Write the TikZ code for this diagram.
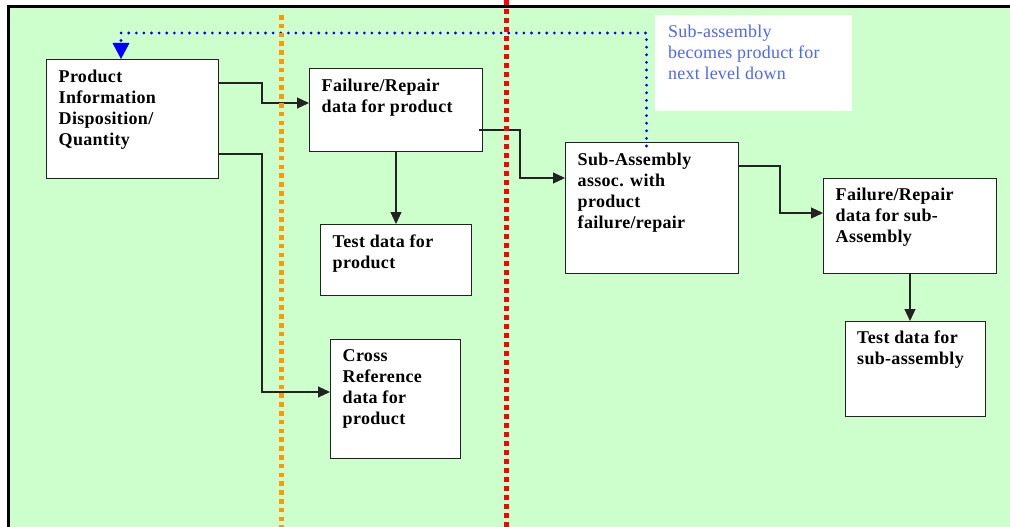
\documentclass[tikz,border=0pt]{standalone}
\usepackage{fontspec}
\setmainfont{Liberation Serif}
\newfontfamily\spacedserif[LetterSpace=1.8]{Liberation Serif}
\newfontfamily\noteserif[LetterSpace=1.2]{Liberation Serif}
\usetikzlibrary{arrows.meta,calc}
\definecolor{bggreen}{HTML}{CCFFCC}
\definecolor{dotorange}{HTML}{FF9900}
\definecolor{dotred}{HTML}{FF0000}
\definecolor{noteblue}{RGB}{77,102,255}
\definecolor{linkblue}{HTML}{0000FF}
\definecolor{edgegray}{HTML}{222222}
\begin{document}
\begin{tikzpicture}[x=1pt,y=-1pt,
  boxnode/.style={draw=edgegray, line width=1.2pt, fill=white, inner sep=0pt, anchor=north west},
  notebox/.style={fill=white, inner sep=0pt, anchor=north west},
  lbl/.style={anchor=north west, inner sep=0pt, align=left, text=black,
    font=\spacedserif\fontsize{18}{21}\selectfont\bfseries},
  notelbl/.style={anchor=north west, inner sep=0pt, align=left, text=noteblue,
    font=\noteserif\fontsize{18}{21}\selectfont},
  conn/.style={draw=edgegray, line width=1.1pt, -{Triangle[width=11pt,length=12pt]}},
  bluelink/.style={draw=linkblue, line width=3.1pt, line cap=round, dash pattern=on 0pt off 7.6pt,
    -{Triangle[width=17pt,length=16pt,fill=linkblue,line width=0pt]}},
  orangedots/.style={draw=dotorange, line width=4.7pt, dash pattern=on 4.6pt off 4.2pt},
  reddots/.style={draw=dotred, line width=4.8pt, dash pattern=on 4.7pt off 4.3pt}
]
\useasboundingbox (0,0) rectangle (1010,527);
% frame
\fill[bggreen] (8.3,6.8) rectangle (1010,527);
\draw[black, line width=3.2pt] (8.3,527) -- (8.3,6.8) -- (1010,6.8);

% boxes
\node[boxnode, minimum width=172pt, minimum height=119pt] (b1) at (46,59) {};
\node[boxnode, minimum width=173pt, minimum height=83pt] (b2) at (309,68) {};
\node[boxnode, minimum width=151pt, minimum height=71pt] (b3) at (320,224) {};
\node[boxnode, minimum width=130pt, minimum height=119pt] (b4) at (330,339) {};
\node[boxnode, minimum width=173pt, minimum height=131pt] (b5) at (565,142) {};
\node[boxnode, minimum width=173pt, minimum height=95pt] (b6) at (823,178) {};
\node[boxnode, minimum width=140pt, minimum height=95pt] (b7) at (845,321) {};
\node[notebox, minimum width=197pt, minimum height=96pt] (nb) at (655,15) {};

% labels
\node[lbl] (t1) at ($(b1.north west)+(12.5,10.7)$) {Product\\Information\\Disposition/\\Quantity};
\node[lbl] (t2) at ($(b2.north west)+(12.5,10.7)$) {Failure/Repair\\data for product};
\node[lbl] (t3) at ($(b3.north west)+(12.5,10.7)$) {Test data for\\product};
\node[lbl] (t4) at ($(b4.north west)+(12.5,10.7)$) {Cross\\Reference\\data for\\product};
\node[lbl] (t5) at ($(b5.north west)+(12.5,10.7)$) {Sub-Assembly\\assoc. with\\product\\failure/repair};
\node[lbl] (t6) at ($(b6.north west)+(12.5,9.7)$) {Failure/Repair\\data for sub-\\Assembly};
\node[lbl] (t7) at ($(b7.north west)+(12,9.7)$) {Test data for\\sub-assembly};
\node[notelbl] (tn) at ($(nb.north west)+(13,10.2)$) {Sub-assembly\\becomes product for\\next level down};

% connectors
\draw[conn] (b1.east |- 0,83) -- (262,83) -- (262,103) -- (b2.west |- 0,103);
\draw[conn] (b1.east |- 0,154) -- (262,154) -- (262,392) -- (b4.west |- 0,392);
\draw[conn] (b2.south -| 396,0) -- (b3.north -| 396,0);
\draw[conn] ($(b2.north east)+(-4,62)$) -- (520,130) -- (520,178) -- (b5.west |- 0,178);
\draw[conn] (b5.east |- 0,166) -- (780,166) -- (780,213) -- (b6.west |- 0,213);
\draw[conn] (b6.south -| 910,0) -- (b7.north -| 910,0);

% feedback link
\draw[bluelink] ($(b5.north west)+(81.5,4)$) -- (646.5,33) -- (121,33) -- ($(b1.north west)+(75,0)$);

% swim lane separators
\draw[orangedots] (281.3,15) -- (281.3,527);
\draw[reddots] (506.3,0) -- (506.3,527);
\end{tikzpicture}
\end{document}
